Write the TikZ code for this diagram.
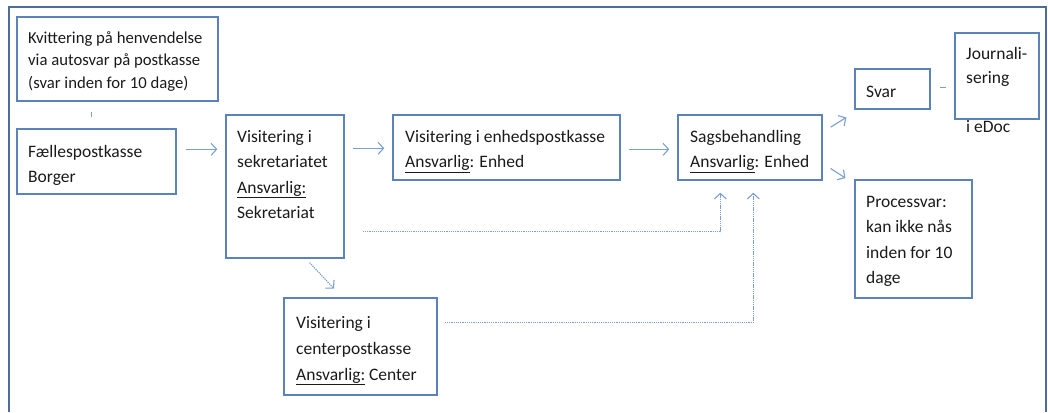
\documentclass[tikz,border=0pt]{standalone}
\usepackage{fontspec}
\setmainfont{Carlito}
\usetikzlibrary{arrows.meta,calc,fit}
\definecolor{boxc}{HTML}{5A83BC}
\definecolor{arrc}{HTML}{7BA0D0}
\definecolor{framec}{HTML}{4D6E9C}
\definecolor{txtc}{HTML}{1A1A1A}
\tikzset{
  box/.style={draw=boxc, line width=1.4pt, inner sep=0pt},
  txt/.style={anchor=base west, inner sep=0pt, align=left, text=txtc, font=\fontsize{17.5}{25.5}\selectfont},
  arr/.style={draw=arrc, line width=1.1pt, -{Straight Barb[length=5.5pt,width=12pt]}},
  dotarr/.style={arr, dash pattern=on 1.3pt off 0.9pt},
  plain/.style={draw=arrc, line width=1.1pt},
}
\begin{document}
\begin{tikzpicture}[x=1pt,y=-1pt]
\useasboundingbox (0,0) rectangle (1048,412);
\draw[framec, line width=2.8pt] (9,412) -- (9,7) -- (1046,7) -- (1046,412);

% boxes
\node[box, fit={(17,17) (218,101)}] (kvit) {};
\node[box, fit={(17,129) (176,194)}] (fael) {};
\node[box, fit={(226,115) (344,258)}] (sek) {};
\node[box, fit={(393,115) (620,180)}] (enh) {};
\node[box, fit={(678,115) (822,180)}] (sag) {};
\node[box, fit={(855,69) (930,109)}] (svar) {};
\node[box, fit={(955,33) (1039,119)}] (jour) {};
\node[box, fit={(855,180) (972,298)}] (proc) {};
\node[box, fit={(284,298) (437,395)}] (cen) {};

% texts (anchor = baseline of last line)
\node[txt, font=\fontsize{16.7}{22}\selectfont] (kvitt) at (28,88) {Kvittering på henvendelse\\via autosvar på postkasse\\(svar inden for 10 dage)};
\node[txt] (faelt) at (28,182.5) {Fællespostkasse\\Borger};
\node[txt] (sekt) at (237,218.5) {Visitering i\\sekretariatet\\\underline{Ansvarlig:}\\Sekretariat};
\node[txt] (enht) at (405,167.5) {Visitering i enhedspostkasse\\\underline{Ansvarlig}: Enhed};
\node[txt] (sagt) at (690,167.5) {Sagsbehandling\\\underline{Ansvarlig}: Enhed};
\node[txt] (svart) at (866,97) {Svar};
\node[txt, font=\fontsize{17.5}{24.3}\selectfont] (jourt) at (966,132) {Journali-\\sering\\[24.3pt]i eDoc};
\node[txt] (proct) at (866,283.5) {Processvar:\\kan ikke nås\\inden for 10\\dage};
\node[txt, font=\fontsize{17.5}{26}\selectfont] (cent) at (296,380) {Visitering i\\centerpostkasse\\\underline{Ansvarlig:} Center};

% connectors
\draw[plain, shorten <=10pt, shorten >=11pt] ($(kvit.south west)+(75,0)$) -- ($(fael.north west)+(75,0)$);
\draw[arr, shorten <=9pt, shorten >=8pt] ($(fael.north east)+(0,21)$) -- ($(sek.north west)+(0,35)$);
\draw[arr, shorten <=8pt, shorten >=8pt] ($(sek.north east)+(0,34)$) -- ($(enh.north west)+(0,34)$);
\draw[arr, shorten <=8pt, shorten >=8pt] ($(enh.north east)+(0,35)$) -- ($(sag.north west)+(0,35)$);
\draw[arr, shorten <=9.3pt, shorten >=9.3pt] ($(sag.north east)+(0,17.7)$) -- ($(svar.north west)+(0,44.3)$);
\draw[arr, shorten <=9.4pt, shorten >=10.6pt] ($(sag.north east)+(0,49)$) -- ($(proc.north west)+(0,4.6)$);
\draw[plain, shorten <=9pt, shorten >=8pt] ($(svar.north east)+(0,19)$) -- ($(jour.north west)+(0,55)$);
\draw[dotarr, shorten <=5.3pt, shorten >=11.9pt] ($(sek.south west)+(80.6,0)$) -- ($(cen.north west)+(58.8,0)$);
\draw[dotarr, shorten <=18pt, shorten >=12pt] ($(sek.south east)+(0,-27)$) -| ($(sag.south west)+(43,0)$);
\draw[dotarr, shorten <=7pt, shorten >=12pt] ($(cen.north east)+(0,25)$) -| ($(sag.south west)+(76,0)$);
\end{tikzpicture}
\end{document}
